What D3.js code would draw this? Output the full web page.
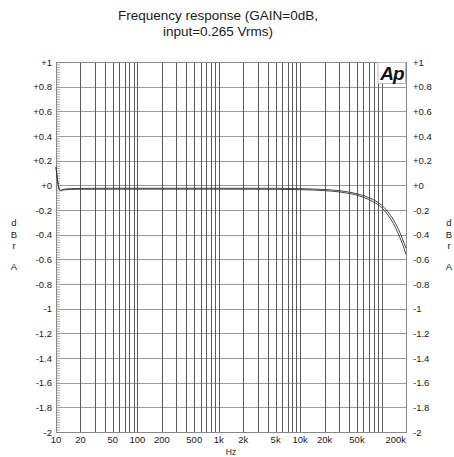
<!DOCTYPE html>
<html>
<head>
<meta charset="utf-8">
<script src="https://cdn.jsdelivr.net/npm/d3@7"></script>
<style>
  body { margin: 0; background: #fff; }
  text { font-family: "Liberation Sans", Arial, sans-serif; fill: #1a1a1a; }
</style>
</head>
<body>
<div class="chart"></div>
<script>
var svgWidth = 454;
var svgHeight = 457;

var margin = { top: 62, right: 48, bottom: 25, left: 56 };
var width = svgWidth - margin.left - margin.right;
var height = svgHeight - margin.top - margin.bottom;

// frequency points (Hz) and level (dBr A) for the two channels
var freqs = [10, 10.5, 11, 11.5, 12, 13, 15, 20, 50, 100, 1000, 5000, 10000, 20000, 30000,
  40000, 50000, 60000, 70000, 80000, 100000, 120000, 140000, 160000, 180000, 200000];
var chanA = [0.15, 0.03, -0.035, -0.04, -0.035, -0.03, -0.027, -0.025, -0.024, -0.024, -0.024, -0.024,
  -0.027, -0.034, -0.043, -0.055, -0.068, -0.083, -0.1, -0.118, -0.16, -0.215, -0.28, -0.35, -0.43, -0.51];
var chanB = [0.15, 0.03, -0.035, -0.045, -0.04, -0.036, -0.033, -0.032, -0.031, -0.031, -0.031, -0.032,
  -0.035, -0.043, -0.053, -0.066, -0.08, -0.097, -0.115, -0.135, -0.18, -0.24, -0.31, -0.39, -0.47, -0.56];

var xTickVals = [10, 20, 50, 100, 200, 500, 1000, 2000, 5000, 10000, 20000, 50000, 200000];
var xTickText = ["10", "20", "50", "100", "200", "500", "1k", "2k", "5k", "10k", "20k", "50k", "200k"];
var yTickVals = [1, 0.8, 0.6, 0.4, 0.2, 0, -0.2, -0.4, -0.6, -0.8, -1, -1.2, -1.4, -1.6, -1.8, -2];
var yTickText = ["+1", "+0.8", "+0.6", "+0.4", "+0.2", "+0", "-0.2", "-0.4", "-0.6", "-0.8", "-1",
  "-1.2", "-1.4", "-1.6", "-1.8", "-2"];

var svg = d3.select(".chart").append("svg")
  .attr("width", svgWidth)
  .attr("height", svgHeight);

// title
var title = svg.append("text")
  .attr("x", 218)
  .attr("y", 20)
  .attr("text-anchor", "middle")
  .attr("font-size", "13.5px");
title.append("tspan").attr("x", 218).text("Frequency response (GAIN=0dB,");
title.append("tspan").attr("x", 218).attr("dy", 16).text("input=0.265 Vrms)");

var chartGroup = svg.append("g")
  .attr("transform", `translate(${margin.left}, ${margin.top})`);

var xScale = d3.scaleLog().domain([10, 200000]).range([0, width]);
var yScale = d3.scaleLinear().domain([-2, 1]).range([height, 0]);

// vertical grid: 1..9 per decade
var xGrid = [];
[10, 100, 1000, 10000, 100000].forEach(function (dec) {
  for (var k = 1; k <= 9; k++) {
    var f = dec * k;
    if (f > 10 && f < 200000) xGrid.push(f);
  }
});

chartGroup.selectAll(".hgrid")
  .data(yTickVals)
  .enter()
  .append("line")
  .attr("x1", 0)
  .attr("x2", width)
  .attr("y1", d => Math.round(yScale(d)) + 0.5)
  .attr("y2", d => Math.round(yScale(d)) + 0.5)
  .attr("stroke", "#9a9a9a")
  .attr("stroke-width", 1);

chartGroup.selectAll(".vgrid")
  .data(xGrid)
  .enter()
  .append("line")
  .attr("x1", d => Math.round(xScale(d)) + 0.5)
  .attr("x2", d => Math.round(xScale(d)) + 0.5)
  .attr("y1", 0)
  .attr("y2", height)
  .attr("stroke", "#5a5a5a")
  .attr("stroke-width", 1);

// minor ticks on left edge every 0.02 dB
chartGroup.append("g")
  .call(d3.axisRight(yScale).tickValues(d3.range(-100, 51).map(d => d / 50)).tickSize(4).tickFormat(""))
  .call(g => g.select(".domain").remove())
  .selectAll("line").attr("stroke", "#aaa");

// frame
chartGroup.append("rect")
  .attr("x", 0.5)
  .attr("y", 0.5)
  .attr("width", width)
  .attr("height", height)
  .attr("fill", "none")
  .attr("stroke", "#888");

// Ap logo
chartGroup.append("rect")
  .attr("x", width - 28)
  .attr("y", 0.5)
  .attr("width", 27.5)
  .attr("height", 21)
  .attr("fill", "#fff")
  .attr("stroke", "#bbb");
chartGroup.append("text")
  .attr("x", width - 14)
  .attr("y", 18)
  .attr("text-anchor", "middle")
  .attr("font-size", "19px")
  .attr("font-weight", "bold")
  .attr("font-style", "italic")
  .attr("letter-spacing", "-1px")
  .style("fill", "#111")
  .text("Ap");

// curves
var line = d3.line()
  .x(d => xScale(d[0]))
  .y(d => yScale(d[1]))
  .curve(d3.curveMonotoneX);

[chanA, chanB].forEach(function (vals) {
  chartGroup.append("path")
    .datum(freqs.map((f, i) => [f, vals[i]]))
    .attr("d", line)
    .attr("fill", "none")
    .attr("stroke", "#333")
    .attr("stroke-width", 0.9);
});

// y labels
chartGroup.selectAll(".ylab")
  .data(yTickVals)
  .enter()
  .append("text")
  .attr("x", -4)
  .attr("y", d => yScale(d) + 3.5)
  .attr("text-anchor", "end")
  .attr("font-size", "9.5px")
  .text((d, i) => yTickText[i]);

chartGroup.selectAll(".ylabr")
  .data(yTickVals)
  .enter()
  .append("text")
  .attr("x", width + 7)
  .attr("y", d => yScale(d) + 3.5)
  .attr("text-anchor", "start")
  .attr("font-size", "9.5px")
  .text((d, i) => yTickText[i]);

// x labels
chartGroup.selectAll(".xlab")
  .data(xTickVals)
  .enter()
  .append("text")
  .attr("x", d => xScale(d))
  .attr("y", height + 11)
  .attr("text-anchor", d => d === 200000 ? "end" : "middle")
  .attr("font-size", "9.5px")
  .text((d, i) => xTickText[i]);

svg.append("text")
  .attr("x", 231)
  .attr("y", 455)
  .attr("text-anchor", "middle")
  .attr("font-size", "8.5px")
  .text("Hz");

// stacked axis title dBr A on both sides
[14, 449].forEach(function (x) {
  var letters = [["d", 226], ["B", 238], ["r", 249], ["A", 270]];
  letters.forEach(function (l) {
    svg.append("text")
      .attr("x", x)
      .attr("y", l[1])
      .attr("text-anchor", "middle")
      .attr("font-size", "9.5px")
      .text(l[0]);
  });
});
</script>
</body>
</html>
